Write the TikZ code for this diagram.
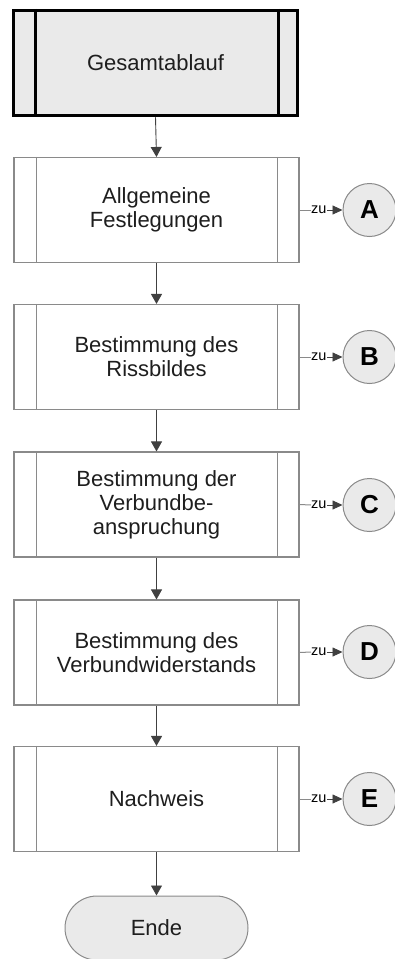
\documentclass[tikz,border=0pt]{standalone}
\usepackage{fontspec}
\setmainfont{Liberation Sans}
\usetikzlibrary{arrows.meta,shapes.misc}
\definecolor{boxline}{HTML}{8A8A8A}
\definecolor{shade}{HTML}{EAEAEA}
\definecolor{txt}{HTML}{1E1E1E}
\tikzset{
  procbox/.style={draw=boxline, line width=1.1pt, fill=white, minimum width=285pt, minimum height=105pt, inner sep=0pt, align=center, text=txt, font=\fontsize{22}{24}\selectfont},
  topbox/.style={draw=black, line width=3.5pt, fill=shade, minimum width=284pt, minimum height=105pt, inner sep=0pt, align=center, text=txt, font=\fontsize{22}{24}\selectfont},
  refcirc/.style={circle, draw=boxline, line width=1pt, fill=shade, minimum size=53pt, inner sep=0pt, text=black, font=\fontsize{26}{28}\selectfont\bfseries},
  endbox/.style={rounded rectangle, draw=boxline, line width=1pt, fill=shade, minimum width=183pt, minimum height=64pt, inner sep=0pt, text=txt, font=\fontsize{22}{24}\selectfont},
  zulabel/.style={inner sep=0pt, text=black, font=\fontsize{14.5}{15}\selectfont},
  flow/.style={draw=black!75, line width=0.9pt, -{Triangle[width=11pt,length=10pt]}},
  zuarr/.style={draw=black!75, line width=0.9pt, -{Triangle[width=9pt,length=10pt]}},
  thinline/.style={draw=boxline, line width=1pt},
}
\begin{document}
\begin{tikzpicture}[x=1pt,y=-1pt]
\useasboundingbox (0,0) rectangle (395,959);
% top box
\node[topbox] (g) at (155.5,63) {Gesamtablauf};
\draw[black, line width=3pt] ([xshift=24pt]g.north west) -- ([xshift=24pt]g.south west);
\draw[black, line width=3pt] ([xshift=-21pt]g.north east) -- ([xshift=-21pt]g.south east);
% process boxes
\node[procbox] (b1) at (156.5,210) {Allgemeine\\Festlegungen};
\node[procbox] (b2) at (156.5,357) {Bestimmung des\\Rissbildes};
\node[procbox] (b3) at (156.5,504.5) {Bestimmung der\\Verbundbe-\\anspruchung};
\node[procbox] (b4) at (156.5,652.5) {Bestimmung des\\Verbundwiderstands};
\node[procbox] (b5) at (156.5,799) {Nachweis};
\foreach \b in {b1,b2,b3,b4,b5}{
  \draw[thinline] ([xshift=23pt]\b.north west) -- ([xshift=23pt]\b.south west);
  \draw[thinline] ([xshift=-22pt]\b.north east) -- ([xshift=-22pt]\b.south east);
}
% end
\node[endbox] (e) at (156.5,928) {Ende};
% circles
\node[refcirc] (cA) at (369.5,210) {A};
\node[refcirc] (cB) at (369.5,357) {B};
\node[refcirc] (cC) at (369.5,505) {C};
\node[refcirc] (cD) at (369.5,652) {D};
\node[refcirc] (cE) at (369.5,799) {E};
% zu labels
\node[zulabel, anchor=west] (z1) at (311,210) {zu};
\node[zulabel, anchor=west] (z2) at (311,357) {zu};
\node[zulabel, anchor=west] (z3) at (311,505) {zu};
\node[zulabel, anchor=west] (z4) at (311,652) {zu};
\node[zulabel, anchor=west] (z5) at (311,799) {zu};
\foreach \i/\b/\c in {1/b1/cA,2/b2/cB,3/b3/cC,4/b4/cD,5/b5/cE}{
  \draw[thinline] (\b.east) -- (z\i.west);
  \draw[zuarr] ([xshift=0.5pt]z\i.east) -- (\c.west);
}
% flow
\draw[flow] (g.south) -- (b1.north);
\draw[flow] (b1.south) -- (b2.north);
\draw[flow] (b2.south) -- (b3.north);
\draw[flow] (b3.south) -- (b4.north);
\draw[flow] (b4.south) -- (b5.north);
\draw[flow] (b5.south) -- (e.north);
\end{tikzpicture}
\end{document}
